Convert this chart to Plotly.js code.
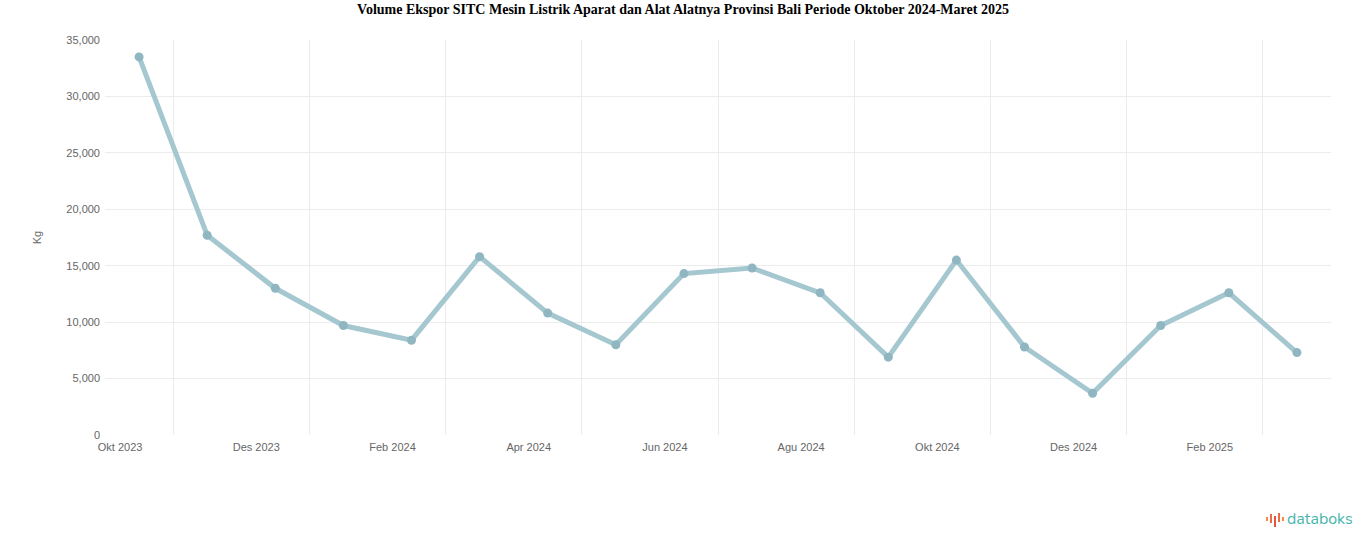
<!DOCTYPE html>
<html>
<head>
<meta charset="utf-8">
<script src="https://cdn.plot.ly/plotly-3.0.1.min.js"></script>
<style>
  html, body { margin: 0; padding: 0; background: #ffffff; }
  #chart { width: 1366px; height: 547px; }
</style>
</head>
<body>
<div id="chart"></div>
<script>
// Months (Oktober 2023 - Maret 2025)
const months = [
  "Okt 2023", "Nov 2023", "Des 2023", "Jan 2024", "Feb 2024", "Mar 2024",
  "Apr 2024", "Mei 2024", "Jun 2024", "Jul 2024", "Agu 2024", "Sep 2024",
  "Okt 2024", "Nov 2024", "Des 2024", "Jan 2025", "Feb 2025", "Mar 2025"
];
// Export volume (Kg)
const volumeKg = [
  33500, 17700, 13000, 9700, 8400, 15800,
  10800, 8000, 14300, 14800, 12600, 6900,
  15500, 7800, 3700, 9700, 12600, 7300
];
const yTicks = [0, 5000, 10000, 15000, 20000, 25000, 30000, 35000];
const titleText = "Volume Ekspor SITC Mesin Listrik Aparat dan Alat Alatnya Provinsi Bali Periode Oktober 2024-Maret 2025";
const yTitle = "Kg";
const brand = "databoks";

const gridColor = "#ececec";
const tickFont = {family: "Liberation Sans, Arial, sans-serif", size: 11, color: "#666666"};

const trace = {
  type: "scatter",
  mode: "lines+markers",
  x: months,
  y: volumeKg,
  line: {color: "#a5c7d0", width: 5},
  marker: {color: "#8fb6c1", size: 9},
  hoverinfo: "x+y",
  showlegend: false
};

// empty helper trace so the overlaid grid axis is drawn
const gridHelper = {
  type: "scatter", mode: "markers",
  x: [], y: [],
  xaxis: "x2", yaxis: "y",
  hoverinfo: "skip", showlegend: false
};

// gridline positions between category slots (every second boundary)
const gridVals = [];
for (let i = 0; i < months.length - 1; i += 2) gridVals.push(i + 0.5);

const iconSvg = 'data:image/svg+xml;utf8,' + encodeURIComponent(
  '<svg xmlns="http://www.w3.org/2000/svg" width="18" height="16">' +
  '<rect x="0" y="6" width="2" height="4" fill="#f08a4b"/>' +
  '<rect x="4" y="3" width="2" height="9" fill="#ec6a45"/>' +
  '<rect x="8" y="5" width="2" height="11" fill="#e8553f"/>' +
  '<rect x="12" y="2" width="2" height="9" fill="#ec6a45"/>' +
  '<rect x="16" y="6" width="2" height="4" fill="#f08a4b"/>' +
  '</svg>');

const layout = {
  width: 1366,
  height: 547,
  paper_bgcolor: "#ffffff",
  plot_bgcolor: "#ffffff",
  margin: {l: 105, r: 35, t: 40, b: 112, pad: 0},
  title: {
    text: "<b>" + titleText + "</b>",
    x: 0.5, xanchor: "center",
    y: 0.983, yanchor: "middle",
    font: {family: "Liberation Serif, Times New Roman, serif", size: 14, color: "#000000"}
  },
  xaxis: {
    type: "category",
    range: [-0.5, months.length - 0.5],
    dtick: 2,
    tick0: 0,
    showgrid: false,
    zeroline: false,
    showline: false,
    ticks: "",
    tickangle: 0,
    ticklabelshift: -19,
    ticklabelstandoff: 4,
    tickfont: tickFont,
    fixedrange: true
  },
  xaxis2: {
    overlaying: "x",
    anchor: "y",
    side: "bottom",
    type: "linear",
    range: [-0.5, months.length - 0.5],
    tickmode: "array",
    tickvals: gridVals,
    showticklabels: false,
    showgrid: true,
    gridcolor: gridColor,
    gridwidth: 1,
    zeroline: false,
    ticks: "",
    fixedrange: true
  },
  yaxis: {
    range: [0, 35000],
    tickmode: "array",
    tickvals: yTicks,
    tickformat: ",d",
    showgrid: true,
    gridcolor: gridColor,
    gridwidth: 1,
    zeroline: false,
    showline: false,
    ticks: "",
    ticklabelstandoff: 4,
    tickfont: tickFont,
    title: {text: yTitle, font: {family: "Liberation Sans, Arial, sans-serif", size: 11, color: "#666666"}, standoff: 22},
    fixedrange: true
  },
  images: [{
    source: iconSvg,
    xref: "paper", yref: "paper",
    x: (1266 - 105) / (1366 - 105 - 35),
    y: -(527 - 435) / (435 - 40),
    sizex: 18 / (1366 - 140), sizey: 16 / 395,
    xanchor: "left", yanchor: "bottom",
    sizing: "stretch"
  }],
  annotations: [{
    text: brand,
    xref: "paper", yref: "paper",
    x: (1285 - 105) / (1366 - 105 - 35),
    y: -(519 - 435) / (435 - 40),
    xanchor: "left", yanchor: "middle",
    showarrow: false,
    font: {family: "Nunito, Open Sans, Liberation Sans, sans-serif", size: 16, color: "#49b5ac"}
  }],
  showlegend: false
};

Plotly.newPlot("chart", [gridHelper, trace], layout, {displayModeBar: false});
</script>
</body>
</html>
